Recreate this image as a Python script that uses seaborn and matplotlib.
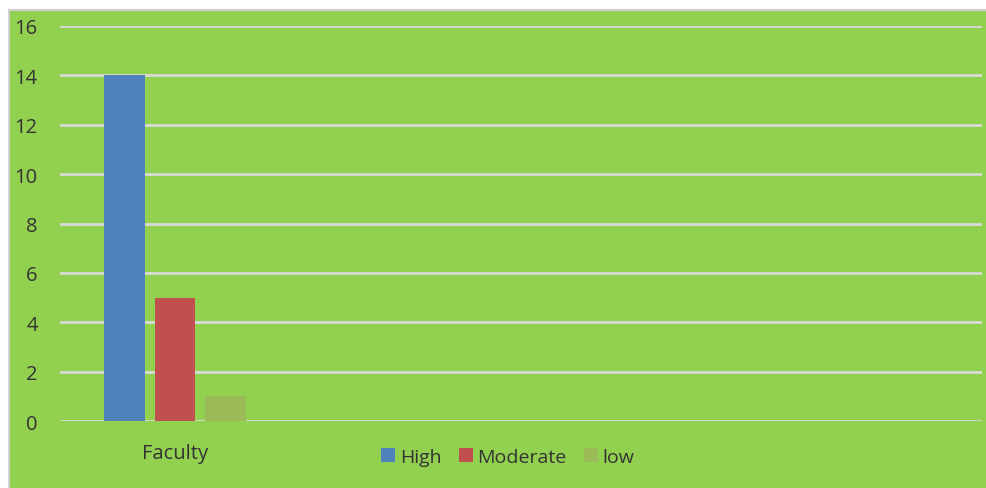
import matplotlib
matplotlib.use("Agg")
import matplotlib.pyplot as plt
import seaborn as sns
import pandas as pd
from matplotlib.patches import Rectangle, Patch

categories = ["Faculty"]
levels = ["High", "Moderate", "low"]
values = [14, 5, 1]
colors = ["#4F81BD", "#C0504D", "#9BBB59"]
yticks = [0, 2, 4, 6, 8, 10, 12, 14, 16]

df = pd.DataFrame({"cat": categories * len(levels), "level": levels, "value": values})

sns.set_theme(style="white")
plt.rcParams["font.family"] = ["Open Sans", "DejaVu Sans"]

W, H = 987, 489
fig = plt.figure(figsize=(W / 100, H / 100), dpi=100)
fig.patch.set_facecolor("white")
bg = Rectangle((9 / W, -0.02), 1.05, 1.02 - 11 / H, transform=fig.transFigure,
               facecolor="#92D050", edgecolor="#D0D0D0", linewidth=1.5, zorder=-10)
fig.patches.append(bg)

ax = fig.add_axes([60 / W, 1 - 422 / H, (982 - 60) / W, (422 - 27) / H])
ax.set_zorder(1)
ax.patch.set_visible(False)
sns.barplot(data=df, x="cat", y="value", hue="level", hue_order=levels, palette=colors,
            width=0.8, gap=0.196, saturation=1, ax=ax, legend=False)
for b in ax.patches:
    b.set_edgecolor("none")
ax.set_xlim(-0.602, 4.225)
ax.set_ylim(0, 16)
ax.set_yticks(yticks)
ax.set_yticklabels([str(t) for t in yticks], fontsize=14.5, color="#333333")
ax.grid(axis="y", color="#D9D9D9", linewidth=2)
ax.set_axisbelow(True)
for s in ax.spines.values():
    s.set_visible(False)
ax.tick_params(axis="y", length=0, pad=16)
ax.tick_params(axis="x", length=0, pad=16, labelsize=14.5, labelcolor="#333333")
ax.set_xlabel("")
ax.set_ylabel("")

handles = [Patch(facecolor=c, edgecolor="none", label=l) for c, l in zip(colors, levels)]
leg = fig.legend(handles=handles, loc="center", bbox_to_anchor=(508 / W, 1 - 458 / H), ncol=3,
                 frameon=False, fontsize=14, handlelength=0.7, handleheight=0.7,
                 handletextpad=0.25, columnspacing=0.9, labelcolor="#333333")

fig.savefig("out.png", dpi=100)
